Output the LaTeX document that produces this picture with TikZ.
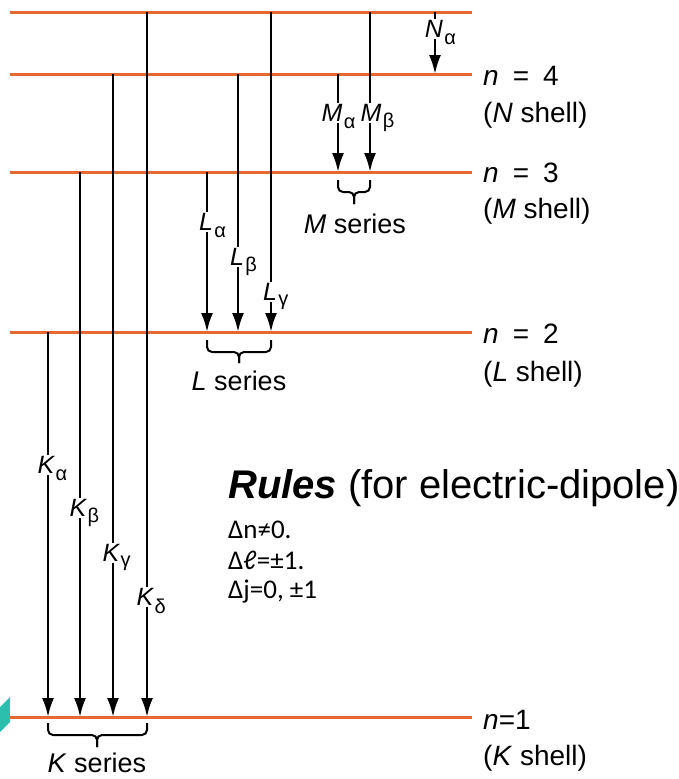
\documentclass[tikz,border=0pt]{standalone}
\usepackage{fontspec}
\setmainfont{Liberation Sans}
\newfontfamily\rulefont{Carlito}
\usetikzlibrary{arrows.meta}
\definecolor{lvl}{HTML}{E8692E}
\definecolor{tealshape}{HTML}{2DBFAE}
\begin{document}
\begin{tikzpicture}[x=1pt,y=-1pt,
  level/.style={draw=lvl, line width=3pt},
  trans/.style={draw=black, line width=2.5pt, -{Latex[length=19pt,width=12pt]}},
  tl/.style={fill=white, inner sep=1pt, font=\fontsize{25}{25}\selectfont\itshape},
  ts/.style={inner sep=0pt, anchor=west, font=\fontsize{20}{20}\selectfont},
  brace/.style={draw=black, line width=2pt, rounded corners=5pt},
  series/.style={inner sep=0pt, anchor=base, font=\fontsize{27}{27}\selectfont},
  shell/.style={inner sep=0pt, anchor=base west, font=\fontsize{28}{28}\selectfont}]
\useasboundingbox (0,0) rectangle (679,779);
% teal shape
\fill[tealshape] (10,697) -- (10,722) -- (0,732) -- (0,707) -- cycle;
% levels
\foreach \n/\y in {L5/12, L4/74, L3/172, L2/332, L1/717} {
  \coordinate (\n w) at (10,\y);
  \coordinate (\n e) at (472,\y);
  \draw[level] (\n w) -- (\n e);
}
% transitions
\foreach \n/\x/\ys/\ye in {ka/48/332/717, kb/80/172/717, kc/113/74/717, kd/147/12/717,
  la/207/172/332, lb/238/74/332, lc/271/12/332, ma/338/74/172, mb/370/12/172, na/435/12/74} {
  \coordinate (\n s) at (\x,\ys);
  \coordinate (\n e) at (\x,\ye);
  \draw[trans] (\n s) -- (\n e);
}
% labels on transitions
\node[tl] (kaL) at (46,465) {K};  \node[ts] at (kaL.south east) {α};
\node[tl] (kbL) at (78,508) {K};  \node[ts] at (kbL.south east) {β};
\node[tl] (kcL) at (111,553) {K}; \node[ts] at (kcL.south east) {γ};
\node[tl] (kdL) at (145,597) {K}; \node[ts] at (kdL.south east) {δ};
\node[tl] (laL) at (206,222) {L}; \node[ts] at (laL.south east) {α};
\node[tl] (lbL) at (237,257) {L}; \node[ts] at (lbL.south east) {β};
\node[tl] (lcL) at (270,292) {L}; \node[ts] at (lcL.south east) {γ};
\node[tl] (mbL) at (371,113) {M}; \node[ts] at (mbL.south east) {β};
\node[tl] (maL) at (332,113) {M}; \node[ts] at (maL.south east) {α};
\node[tl] (naL) at (434,29) {N};  \node[ts] at (naL.south east) {α};
% braces
\draw[brace] (48,723) |- (97,735) -- (97,747);
\draw[brace] (147,723) |- (97,735) -- (97,747);
\node[series] (kser) at (97,772) {\textit{K} series};
\draw[brace] (207,340) |- (239,352) -- (239,363);
\draw[brace] (271,340) |- (239,352) -- (239,363);
\node[series] (lser) at (239,390) {\textit{L} series};
\draw[brace] (338,180) |- (354,192) -- (354,204);
\draw[brace] (370,180) |- (354,192) -- (354,204);
\node[series] (mser) at (355,233) {\textit{M} series};
% shell labels
\node[shell] (n4) at (483,85) {\textit{n}\hspace{0.5em}=\hspace{0.5em}4};
\node[shell] (s4) at (483,122) {(\textit{N} shell)};
\node[shell] (n3) at (483,182) {\textit{n}\hspace{0.5em}=\hspace{0.5em}3};
\node[shell] (s3) at (483,218) {(\textit{M} shell)};
\node[shell] (n2) at (483,343) {\textit{n}\hspace{0.5em}=\hspace{0.5em}2};
\node[shell] (s2) at (483,381) {(\textit{L} shell)};
\node[shell] (n1) at (483,729) {\textit{n}=1};
\node[shell] (s1) at (483,765) {(\textit{K} shell)};
% rules
\node[anchor=base west, inner sep=0pt, font=\fontsize{40}{40}\selectfont] (rules) at (228,498) {\textbf{\textit{Rules}} (for electric-dipole)};
\node[anchor=base west, inner sep=0pt, font=\rulefont\fontsize{27}{27}\selectfont] (r1) at (228,538) {Δn≠0.};
\node[anchor=base west, inner sep=0pt, font=\rulefont\fontsize{27}{27}\selectfont] (r2) at (228,569) {Δℓ=±1.};
\node[anchor=base west, inner sep=0pt, font=\rulefont\fontsize{27}{27}\selectfont] (r3) at (228,598) {Δj=0, ±1};
\end{tikzpicture}
\end{document}
